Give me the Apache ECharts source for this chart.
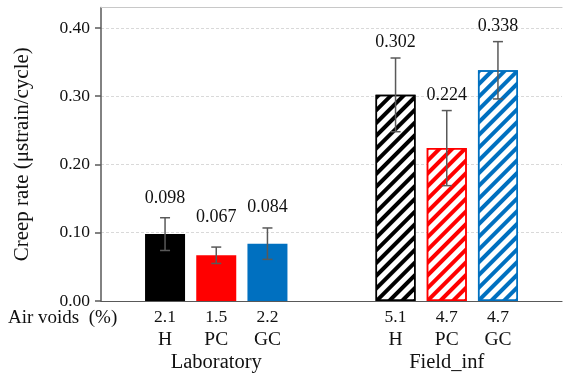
<!DOCTYPE html>
<html>
<head>
<meta charset="utf-8">
<script src="https://cdn.jsdelivr.net/npm/echarts@6/dist/echarts.min.js"></script>
<style>
html,body{margin:0;padding:0;background:#fff;}
#chart{width:564px;height:375px;}
</style>
</head>
<body>
<div id="chart"></div>
<script>
// ---- data ----
const categories = ['Laboratory', 'Field_inf'];
const seriesNames = ['H', 'PC', 'GC'];
const creepH  = [0.098, 0.302];
const creepPC = [0.067, 0.224];
const creepGC = [0.084, 0.338];
const errH  = [0.024, 0.054];
const errPC = [0.012, 0.055];
const errGC = [0.023, 0.042];
const airVoidsH  = ['2.1', '5.1'];
const airVoidsPC = ['1.5', '4.7'];
const airVoidsGC = ['2.2', '4.7'];
const valueLabels = [['0.098', '0.302'], ['0.067', '0.224'], ['0.084', '0.338']];
const yTicks = [0, 0.1, 0.2, 0.3, 0.4];

// ---- style ----
const FONT = 'Liberation Serif';
const colors = ['#000000', '#ff0000', '#0070c0'];
const labelDist = [[27, 44], [29, 44], [27, 35]];
const BAR_W = 40, BAR_GAP = '28%', CAT_GAP = '38%';

const values = [creepH, creepPC, creepGC];
const errs = [errH, errPC, errGC];
const voids = [airVoidsH, airVoidsPC, airVoidsGC];

const barSeries = seriesNames.map((name, s) => ({
  name: name,
  type: 'bar',
  barWidth: BAR_W,
  barGap: BAR_GAP,
  barCategoryGap: CAT_GAP,
  data: values[s].map((v, c) => {
    const item = {
      value: v,
      label: {
        show: true, position: 'top', distance: labelDist[s][c],
        formatter: valueLabels[s][c],
        fontFamily: FONT, fontSize: 18, color: '#111'
      }
    };
    if (c === 0) {
      item.itemStyle = { color: colors[s] };
    } else {
      item.itemStyle = {
        color: '#ffffff', borderColor: colors[s], borderWidth: 1.5,
        decal: {
          symbol: 'rect', color: colors[s],
          dashArrayX: [1, 0], dashArrayY: [4, 5],
          rotation: -Math.PI / 4
        }
      };
    }
    return item;
  }),
  z: 2
}));

const errData = [];
seriesNames.forEach((n, s) => {
  values[s].forEach((v, c) => {
    errData.push([c, v, errs[s][c], s]);
  });
});
const bottomText = [];
seriesNames.forEach((n, s) => {
  values[s].forEach((v, c) => {
    bottomText.push('{a|' + voids[s][c] + '}\n{b|' + n + '}');
  });
});

const errSeries = {
  type: 'custom',
  data: errData,
  encode: { x: 0, y: 1 },
  z: 5,
  silent: true,
  renderItem: function (params, api) {
    const c = api.value(0), v = api.value(1), e = api.value(2), s = api.value(3);
    const layout = api.barLayout({ barWidth: BAR_W, barGap: BAR_GAP, barCategoryGap: CAT_GAP, count: 3 });
    const off = layout[s].offsetCenter;
    const base = api.coord([c, 0]);
    const x = base[0] + off;
    const yT = api.coord([c, v + e])[1];
    const yB = api.coord([c, v - e])[1];
    const cap = 5;
    const st = { stroke: '#595959', lineWidth: 1.5 };
    return {
      type: 'group',
      children: [
        { type: 'line', shape: { x1: x, y1: yT, x2: x, y2: yB }, style: st },
        { type: 'line', shape: { x1: x - cap, y1: yT, x2: x + cap, y2: yT }, style: st },
        { type: 'line', shape: { x1: x - cap, y1: yB, x2: x + cap, y2: yB }, style: st },
        { type: 'text', x: x, y: base[1] + 5,
          style: { text: bottomText[params.dataIndex], fontFamily: FONT, fill: '#111',
                   align: 'center', verticalAlign: 'top',
                   rich: {
                     a: { fontFamily: FONT, fontSize: 17.5, lineHeight: 22, fill: '#111' },
                     b: { fontFamily: FONT, fontSize: 19.5, lineHeight: 23, fill: '#111' }
                   } } }
      ]
    };
  }
};

const chart = echarts.init(document.getElementById('chart'));
chart.setOption({
  backgroundColor: '#ffffff',
  animation: false,
  grid: { left: 101, right: 2, top: 7.5, bottom: 74, containLabel: false },
  xAxis: [{
    type: 'category',
    data: categories,
    axisLine: { lineStyle: { color: '#595959', width: 1.2 } },
    axisTick: { show: false },
    axisLabel: { margin: 51, fontFamily: FONT, fontSize: 20.5, color: '#111' }
  }, {
    type: 'category',
    position: 'top',
    data: categories,
    axisLine: { show: true, lineStyle: { color: '#c8c8c8', width: 1.2 } },
    axisTick: { show: false },
    axisLabel: { show: false }
  }],
  yAxis: {
    type: 'value',
    min: 0, max: 0.43, interval: 0.1,
    name: 'Creep rate (\u03bcstrain/cycle)',
    nameLocation: 'middle', nameGap: 68,
    nameTextStyle: { fontFamily: FONT, fontSize: 21, color: '#111' },
    axisLine: { show: true, lineStyle: { color: '#595959', width: 1.5 } },
    axisTick: { show: true, length: 6, inside: false, customValues: yTicks,
                lineStyle: { color: '#595959', width: 1.5 } },
    axisLabel: { margin: 11, fontFamily: FONT, fontSize: 17.5, color: '#111',
                 customValues: yTicks,
                 formatter: v => v.toFixed(2) },
    splitLine: { show: true, lineStyle: { color: '#d9d9d9', type: [3, 2], width: 1 } }
  },
  graphic: [{
    type: 'text', left: 8, top: 309,
    style: { text: 'Air voids  (%)', fontFamily: FONT, fontSize: 19, fill: '#111' }
  }],
  series: barSeries.concat([errSeries])
});
</script>
</body>
</html>
